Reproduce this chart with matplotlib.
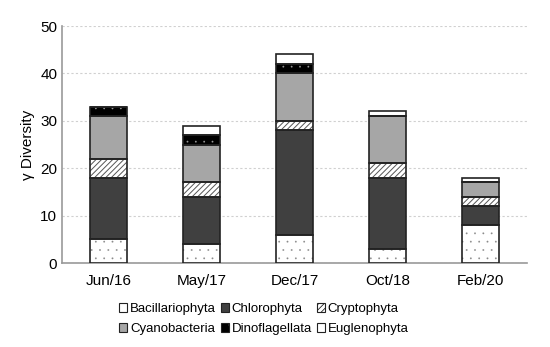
import numpy as np
import matplotlib
matplotlib.use('Agg')
import matplotlib.pyplot as plt

plt.rcParams['font.family'] = ['Liberation Sans', 'DejaVu Sans']

dates = ['Jun/16', 'May/17', 'Dec/17', 'Oct/18', 'Feb/20']
bacillariophyta = [5, 4, 6, 3, 8]
chlorophyta = [13, 10, 22, 15, 4]
cryptophyta = [4, 3, 2, 3, 2]
cyanobacteria = [9, 8, 10, 10, 3]
dinoflagellata = [2, 2, 2, 0, 0]
euglenophyta = [0, 2, 2, 1, 1]

# name, values, face, hatch, hatch colour, hatch linewidth
groups = [
    ('Bacillariophyta', bacillariophyta, 'white', '..', '#8a8a8a', 0.1),
    ('Chlorophyta', chlorophyta, '#404040', None, 'black', 0.6),
    ('Cryptophyta', cryptophyta, 'white', '//////', '#555555', 0.7),
    ('Cyanobacteria', cyanobacteria, '#a6a6a6', None, 'black', 0.6),
    ('Dinoflagellata', dinoflagellata, 'black', '..', '#9a9a9a', 0.1),
    ('Euglenophyta', euglenophyta, 'white', None, 'black', 0.6),
]

fig = plt.figure(figsize=(5.5, 3.47), dpi=100)
ax = fig.add_axes([0.113, 0.242, 0.845, 0.683])

x = np.arange(len(dates))
bottom = np.zeros(len(dates))
for name, vals, fc, hatch, hc, hlw in groups:
    vals = np.array(vals)
    plt.rcParams['hatch.linewidth'] = hlw
    ax.bar(x, vals, 0.4, bottom=bottom, color=fc, hatch=hatch,
           edgecolor=hc, linewidth=0, label=name, zorder=3)
    # outline
    ax.bar(x, vals, 0.4, bottom=bottom, fill=False, edgecolor='#222222',
           linewidth=1.2, zorder=4)
    bottom += vals

ax.set_ylim(0, 50)
ax.set_xlim(-0.5, 4.5)
ax.set_yticks(range(0, 51, 10))
ax.set_xticks(x)
ax.set_xticklabels(dates)
ax.set_ylabel('γ Diversity', fontsize=11)
ax.tick_params(axis='both', labelsize=11, length=0)
ax.tick_params(axis='x', pad=8)
ax.yaxis.grid(True, linestyle=(0, (2, 2)), color='#d0d0d0', linewidth=0.8, zorder=0)
for s in ['top', 'right']:
    ax.spines[s].set_visible(False)
ax.spines['left'].set_color('#999999')
ax.spines['bottom'].set_color('#999999')
ax.spines['left'].set_linewidth(1.2)
ax.spines['bottom'].set_linewidth(1.2)

handles, labels = ax.get_legend_handles_labels()
# row-major order for 3 columns
order = [0, 3, 1, 4, 2, 5]
handles = [handles[i] for i in order]
labels = [labels[i] for i in order]
leg = fig.legend(handles, labels, loc='lower center', ncol=3,
                 bbox_to_anchor=(0.48, 0.0), frameon=False, fontsize=9.5,
                 handlelength=0.6, handleheight=0.6, handletextpad=0.2,
                 columnspacing=0.4, labelspacing=0.6)
for p, lab in zip(leg.get_patches(), labels):
    p.set_edgecolor('#222222')
    p.set_linewidth(0.8)
    if lab == 'Bacillariophyta':
        p.set_hatch(None)

fig.savefig('out.png', dpi=100)
